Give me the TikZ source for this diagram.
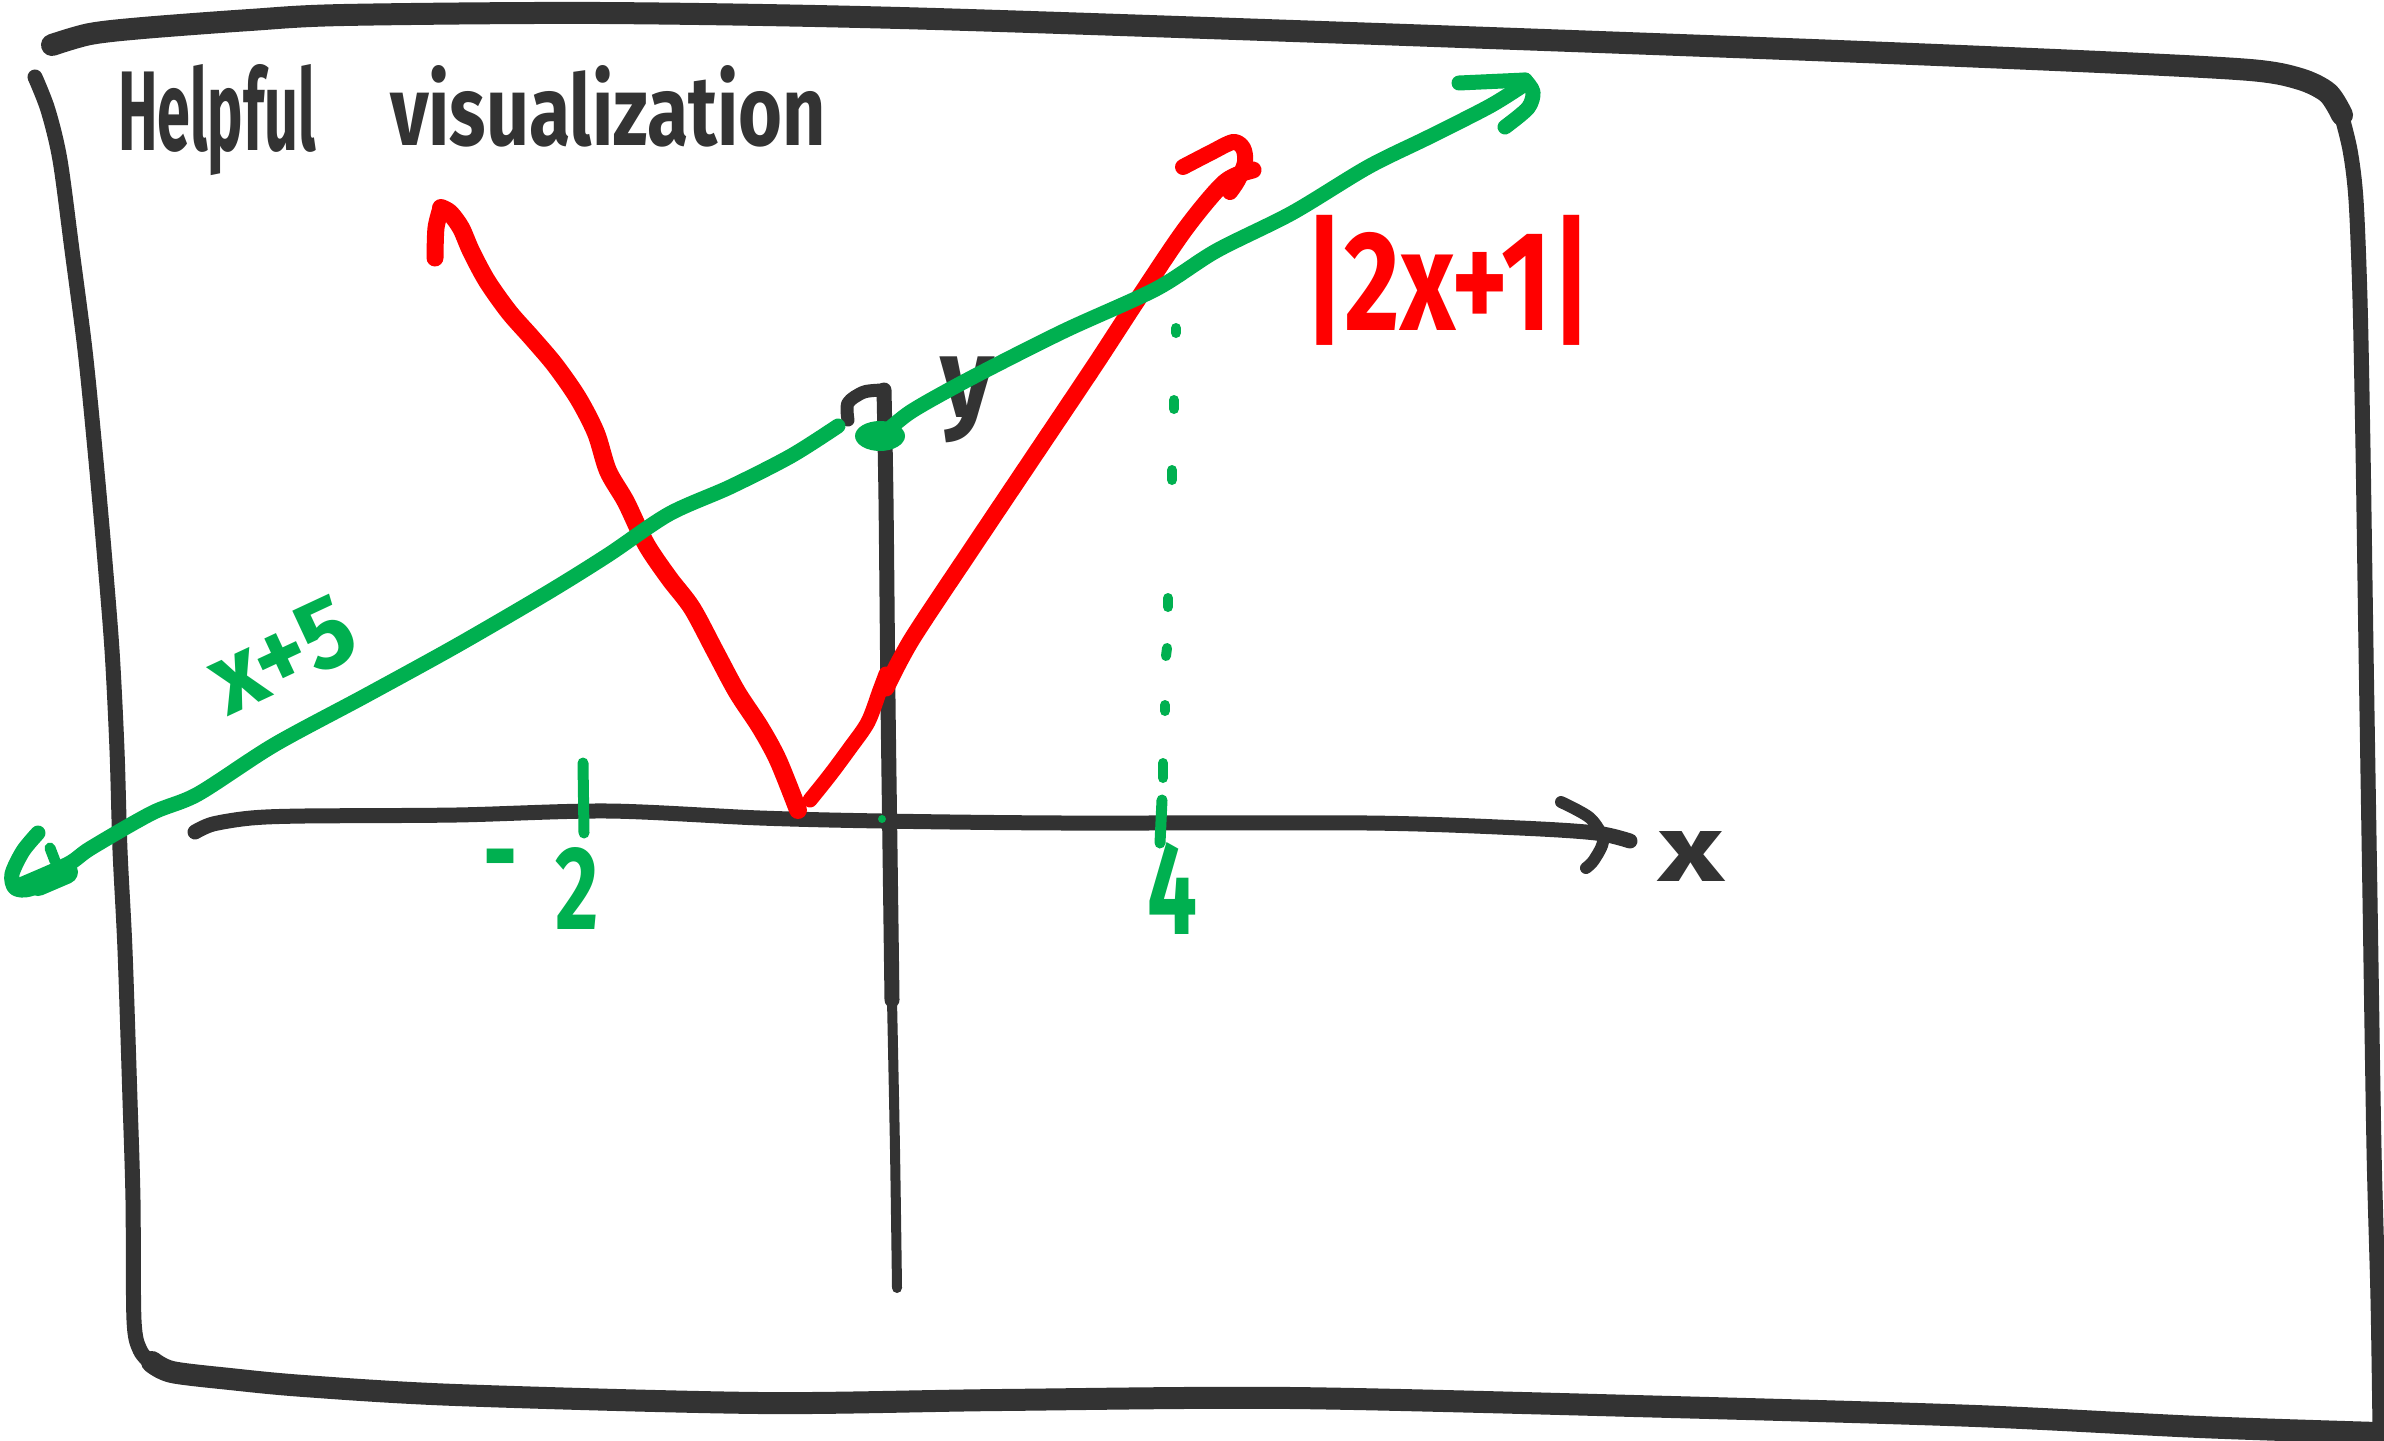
\documentclass[tikz,border=0pt]{standalone}
\usepackage{fontspec}
\setmainfont{Fira Sans}
\usepackage{graphicx}
\definecolor{ink}{HTML}{333333}
\definecolor{grn}{HTML}{00B050}
\definecolor{rd}{HTML}{FF0000}
\begin{document}
\begin{tikzpicture}[x=1pt,y=-1pt,line cap=round,line join=round,
  inkline/.style={draw=ink,line width=#1}, inkline/.default=15pt,
  gline/.style={draw=grn,line width=#1}, gline/.default=15pt,
  rline/.style={draw=rd,line width=#1}, rline/.default=17pt,
  lbl/.style={inner sep=0pt,outer sep=0pt,font=\bfseries},
  smoothp/.style={smooth,tension=0.5}]
\useasboundingbox (0,0) rectangle (2384,1440);
\fill[white] (0,0) rectangle (2384,1440);

% ---------- frame ----------
\draw[inkline=22pt] plot[smoothp] coordinates {(52,45) (90,34) (143,28) (250,20) (344,15) (600,13) (900,18) (1350,33) (1812,50) (2100,62) (2250,70) (2300,79) (2328,93) (2342,115)};
\draw[inkline=15pt] plot[smoothp] coordinates {(2340,110) (2350,150) (2356,200) (2360,300) (2363,450) (2366,650) (2370,900) (2374,1150) (2378,1300) (2380,1430)};
\draw[inkline=22pt] plot[smoothp] coordinates {(2378,1433) (2200,1427) (1976,1416) (1672,1407) (1292,1398) (1000,1400) (760,1403) (456,1395) (304,1386) (230,1379) (172,1372) (152,1362)};
\draw[inkline=15pt] plot[smoothp] coordinates {(152,1364) (140,1350) (134,1320) (133,1200) (130,1100) (125,950) (120,850) (117,750) (112,650) (104,550) (95,450) (85,350) (72,250) (60,160) (48,110) (35,77)};

% ---------- labels ----------
\node[lbl,anchor=base west,text=ink] (title1) at (118,150) {\resizebox{198pt}{86pt}{Helpful}};
\node[lbl,anchor=base west,text=ink] (title2) at (390,145) {\resizebox{436pt}{80pt}{visualization}};
\node[lbl,text=grn,rotate=25] (lblg) at (282,655) {\resizebox*{150pt}{70pt}{x+5}};
\node[lbl,text=rd] (lblr) at (1448,280) {\resizebox*{287pt}{130pt}{|2x+1|}};
\node[lbl,text=ink] (ylbl) at (967,400) {\resizebox*{54pt}{86pt}{y}};
\node[lbl,text=ink] (xlbl) at (1691,856) {\resizebox*{66pt}{50pt}{x}};
\node[lbl,text=grn] (four) at (1172,888) {\resizebox*{50pt}{92pt}{4}};
\node[lbl,text=grn] (mtwo) at (541,888) {\resizebox*{115pt}{82pt}{\raisebox{0.3em}{-}\hspace{0.45em}2}};

% ---------- axes ----------
\draw[inkline=15pt] plot[smoothp] coordinates {(884,390) (886,500) (888,700) (890,850) (892,1000)};
\draw[inkline=10pt] plot[smoothp] coordinates {(892,1000) (895,1150) (897,1288)};
\draw[inkline=13pt] plot[smoothp] coordinates {(848,420) (848,403) (864,392) (884,390)};
\draw[inkline=15pt] plot[smoothp] coordinates {(195,832) (213,824) (251,818) (304,816) (456,815) (608,811) (760,818) (882,821) (1064,823) (1368,823) (1520,828) (1596,833) (1630,841)};
\draw[inkline=12pt] plot[smoothp] coordinates {(1561,802) (1590,818) (1603,840) (1594,860) (1586,868)};

% ---------- red |2x+1| ----------
\draw[rline=18pt] plot[smoothp] coordinates {(441,208) (450,213) (461,228) (471,251) (487,281) (509,312) (532,338) (555,365) (578,398) (596,433) (608,471) (626,502) (646,544) (669,578) (692,608) (715,651) (737,692) (760,727) (778,760) (798,810)};
\draw[rline=17pt] plot[smoothp] coordinates {(441,208) (436,228) (435,258)};
\draw[rline=15pt] plot[smoothp] coordinates {(810,800) (830,775) (850,748) (868,722) (880,690) (886,674)};
\draw[rline=17pt] plot[smoothp] coordinates {(886,688) (912,639) (973,547) (1034,456) (1095,365) (1140,296) (1186,228) (1225,182) (1253,170)};
\draw[rline=16pt] plot[smoothp] coordinates {(1183,167) (1210,153) (1233,142) (1243,148) (1245,162) (1238,180) (1230,192)};

% ---------- green x+5 ----------
\draw[gline] plot[smoothp] coordinates {(18,886) (68,864) (91,848) (152,813) (198,794) (274,745) (365,696) (456,646) (547,593) (608,555) (669,514) (730,487) (791,456) (838,426)};
\draw[gline] plot[smoothp] coordinates {(38,833) (23,851) (12,874) (15,888) (30,889) (61,874)};
\draw[gline=24pt] (38,884) -- (66,872);
\draw[gline=11pt] (50,848) -- (55,861);
\fill[grn] (880,436) ellipse [x radius=25pt, y radius=15pt];
\draw[gline] plot[smoothp] coordinates {(866,438) (880,436) (912,411) (973,377) (1064,331) (1156,289) (1216,251) (1292,213) (1368,167) (1429,137) (1490,106) (1525,84)};
\draw[gline] (1459,83) -- (1525,80);
\draw[gline] plot[smoothp] coordinates {(1525,80) (1533,92) (1528,108) (1505,127)};

% dotted line at x = 4 and ticks
\draw[gline=10pt] (1176,328) -- (1176,333);
\draw[gline=10pt] (1174,400) -- (1174,409);
\draw[gline=10pt] (1172,470) -- (1172,480);
\draw[gline=10pt] (1168,598) -- (1168,607);
\draw[gline=10pt] (1167,648) -- (1166,656);
\draw[gline=10pt] (1165,705) -- (1165,711);
\draw[gline=10pt] (1163,763) -- (1163,778);
\draw[gline=11pt] (1162,800) -- (1160,843);
\draw[gline=11pt] (583,763) -- (584,833);
\fill[grn] (882,819) circle (4pt);
\end{tikzpicture}
\end{document}
